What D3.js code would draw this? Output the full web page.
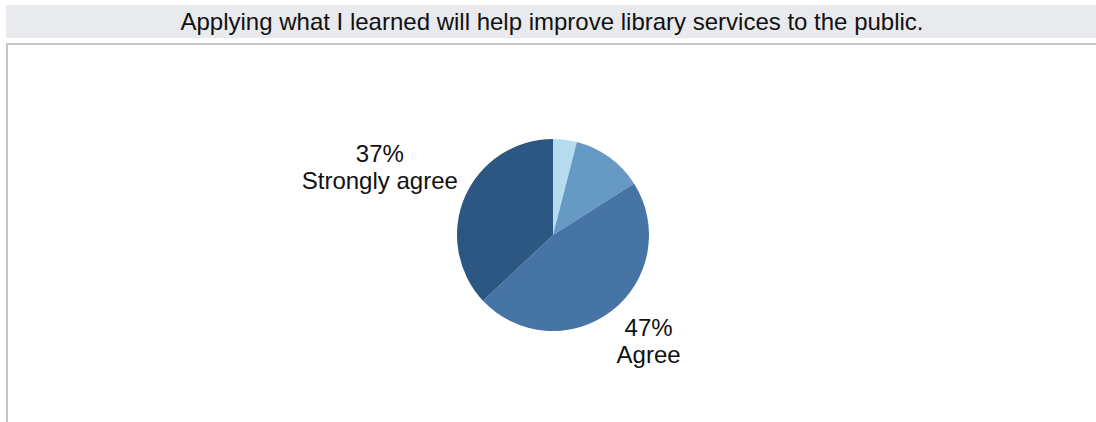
<!DOCTYPE html>
<html lang="en">
<head>
    <meta charset="UTF-8">
    <title>Document</title>
    <script src="https://d3js.org/d3.v7.min.js"></script>
    <style>
        body { margin: 0; background: #fff; }
        text { font-family: "Liberation Sans", Arial, sans-serif; fill: #111; }
    </style>
</head>
<body>
    <script>
        // survey answers, clockwise from 12 o'clock
        var categories = ['Disagree', 'Neutral', 'Agree', 'Strongly agree'];
        var values = [4, 12, 47, 37];
        var colors = ['#b6dcf0', '#6699c4', '#4674a4', '#2b5782'];
        var shown = [false, false, true, true]; // only big slices get a label
        var title = 'Applying what I learned will help improve library services to the public.';

        var width = 1096;
        var height = 422;

        var svg = d3.select('body').append('svg')
            .attr('width', width)
            .attr('height', height);

        // title strip
        svg.append('rect')
            .attr('x', 6).attr('y', 5)
            .attr('width', width - 6).attr('height', 33)
            .style('fill', '#e9eaee');
        svg.append('text')
            .attr('x', 552).attr('y', 30)
            .attr('text-anchor', 'middle')
            .style('font-size', '24px')
            .text(title);

        // panel border (top + left)
        svg.append('path')
            .attr('d', 'M7,' + height + 'V44H' + width)
            .style('fill', 'none')
            .style('stroke', '#c6c6c6')
            .style('stroke-width', 2);

        var cx = 553, cy = 235, r = 96;

        var data = categories.map(function (c, i) {
            return { cat: c, value: values[i], color: colors[i], shown: shown[i] };
        });

        var pie = d3.pie().sort(null).value(function (d) { return d.value; });
        var arc = d3.arc().innerRadius(0).outerRadius(r);
        var arcs = pie(data);

        var g = svg.append('g').attr('transform', 'translate(' + cx + ',' + cy + ')');

        g.selectAll('path')
            .data(arcs)
            .enter()
            .append('path')
            .attr('d', arc)
            .style('fill', function (d) { return d.data.color; })
            .style('stroke', 'none');

        // labels: a two line box whose nearest corner touches a point just outside the slice
        var lineGap = 27, boxH = 51;
        var lab = g.selectAll('g.lab')
            .data(arcs.filter(function (d) { return d.data.shown; }))
            .enter()
            .append('g')
            .attr('class', 'lab');

        lab.append('text')
            .attr('class', 'pct')
            .attr('text-anchor', 'middle')
            .style('font-size', '24px')
            .text(function (d) { return d.data.value + '%'; });
        lab.append('text')
            .attr('class', 'cat')
            .attr('text-anchor', 'middle')
            .attr('y', lineGap)
            .style('font-size', '24px')
            .text(function (d) { return d.data.cat; });

        lab.each(function (d) {
            var node = d3.select(this);
            var w = 0;
            node.selectAll('text').each(function () {
                w = Math.max(w, this.getComputedTextLength());
            });
            var a = (d.startAngle + d.endAngle) / 2;
            var px = Math.sin(a) * r * 1.08;
            var py = -Math.cos(a) * r * 1.08;
            var left = Math.sin(a) < 0 ? px - w : px;
            var top = Math.cos(a) > 0 ? py - boxH : py;
            node.attr('transform', 'translate(' + (left + w / 2) + ',' + (top + 19) + ')');
        });
    </script>
</body>
</html>
